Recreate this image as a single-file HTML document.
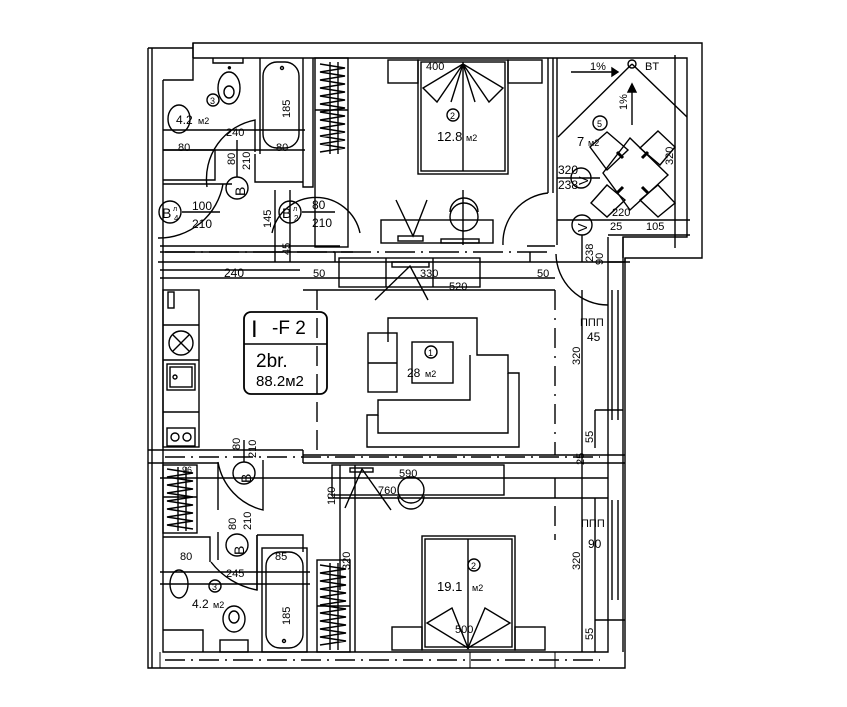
<!DOCTYPE html>
<html><head><meta charset="utf-8"><style>
html,body{margin:0;padding:0;background:#fff;width:847px;height:707px;overflow:hidden}
svg text{font-family:"Liberation Sans",sans-serif;fill:#000}
</style></head><body>
<svg width="847" height="707" viewBox="0 0 847 707" xmlns="http://www.w3.org/2000/svg">
<g fill="none" stroke="#000" stroke-width="1.4">
<path d="M148 48 H193 M148 48 V668 H625 V258 H702 V43 H193 V58"/>
<path d="M163 80 V652 H608 V262"/>
<path d="M152 48 V668"/>
<path d="M193 58 H557 M193 43 V58"/>
<path d="M557 58 H687 V237 H623 V258 M557 58 V245"/>
<path d="M608 262 V237 M623 237 V652 M612 290 V420 M618 290 V420 M612 500 V600 M618 500 V600"/>
<path d="M625 258 V262 H608"/>
<path d="M163 80 H193 V58 M193 58 V80"/>
<path d="M163 150 H215 V180 H163 M163 184 H232"/>
<path d="M255 154 V182 H303 M260 58 V154 M303 58 V187 H313 V58"/>
<rect x="263" y="62" width="36" height="86" rx="14"/>
<circle cx="282" cy="68" r="1.5"/>
<path d="M213 58 V63 H243 V58"/>
<ellipse cx="229" cy="88" rx="11" ry="16"/><ellipse cx="229" cy="92" rx="5" ry="6"/>
<ellipse cx="179" cy="119" rx="11" ry="14"/>
<path d="M207 187 A60 60 0 0 1 255 120 V152"/>
<path d="M158 238 A65 65 0 0 0 223 184"/>
<path d="M272 233 A45 45 0 0 1 360 233"/>
<rect x="315" y="58" width="33" height="189"/>
<path d="M315 110 H348"/>
<path d="M320 64 L345 68 L320 72 L345 76 L320 80 L345 84 L320 88 L345 92 L320 96 L345 100 L320 104 L345 108 L320 112 L345 116 L320 120 L345 124 L320 128 L345 132 L320 136 L345 140 L320 144 L345 148 L320 152"/>
<path d="M330 62 V154 M338 62 V154"/>
<path d="M548 58 V193 M553 58 V193"/>
<rect x="418" y="60" width="90" height="114"/><rect x="421" y="62" width="84" height="109"/>
<path d="M463 62 V171"/>
<rect x="388" y="60" width="30" height="23"/><rect x="508" y="60" width="34" height="23"/>
<path d="M463 64 L423 88 L437 102 Z M463 64 L503 88 L489 102 Z M463 64 L451 102 M463 64 L475 102"/>
<rect x="381" y="220" width="112" height="23"/>
<rect x="398" y="236" width="25" height="5"/><rect x="441" y="239" width="38" height="4"/>
<path d="M396 200 L413 236 L427 200"/>
<circle cx="464" cy="217" r="14"/><path d="M450 212 A14 14 0 0 1 478 212"/>
<path d="M463 190 V245"/>
<path d="M503 245 A50 50 0 0 1 548 193"/>
<path d="M160 246 H340 M160 252 H353 M335 252 V262 M530 252 V262 M527 246 H555"/>
<path d="M158 262 H630"/>
<path d="M165 252 H550" stroke-dasharray="30 6 2 6"/>
<rect x="339" y="258" width="141" height="29"/><path d="M386 258 V287 M433 258 V287"/>
<rect x="392" y="262" width="37" height="5"/>
<path d="M375 300 L410 266 L428 300"/>
<path d="M160 278 H555 M303 290 H555"/>
<path d="M608 305 A52 52 0 0 1 556 254"/>
<rect x="163" y="290" width="36" height="157"/>
<path d="M163 325 H199 M163 360 H199 M163 412 H199"/>
<rect x="168" y="292" width="6" height="16"/>
<circle cx="181" cy="343" r="12"/><path d="M173 335 L189 351 M189 335 L173 351"/>
<rect x="167" y="364" width="28" height="26"/><rect x="170" y="367" width="22" height="20"/>
<circle cx="175" cy="377" r="2"/>
<rect x="167" y="428" width="28" height="18"/><circle cx="175" cy="437" r="4"/><circle cx="187" cy="437" r="4"/>
<path d="M317 290 V450" stroke-dasharray="20 8"/>
<path d="M555 290 V455" stroke-dasharray="20 8 2 8"/>
<rect x="244" y="312" width="83" height="82" rx="7" stroke-width="1.8"/>
<path d="M244 344 H327"/>
<path d="M388 342 V318 H477 V355 H508 V373 H519 V447 H367 V415 H378 V400 H470 V355"/>
<path d="M378 415 V433 H508 V373"/>
<rect x="368" y="333" width="29" height="59"/><path d="M368 363 H397"/>
<rect x="412" y="342" width="41" height="41"/>
<path d="M148 450 H303 M148 463 H218 M303 450 V463 M218 463 V510 M303 463 H625 M303 455 H625"/>
<path d="M165 457 H600" stroke-dasharray="20 6 2 6"/>
<path d="M595 410 H623 M595 410 V448"/>
<path d="M218 462 A60 60 0 0 0 263 510 V460"/>
<rect x="163" y="465" width="34" height="68"/><path d="M163 497 H197"/>
<path d="M167 469 L193 473 L167 477 L193 481 L167 485 L193 489 L167 493 L193 497 L167 501 L193 505 L167 509 L193 513 L167 517 L193 521 L167 525 L193 529"/>
<path d="M178 467 V531 M186 467 V531"/>
<path d="M163 537 H210 V562 M163 630 H203 V652 M218 532 V560 M257 535 H303 V552 M257 535 V590"/>
<path d="M211 562 A75 75 0 0 0 257 590 V535"/>
<rect x="262" y="548" width="45" height="104"/>
<rect x="266" y="552" width="37" height="96" rx="14"/><circle cx="284" cy="641" r="1.5"/>
<ellipse cx="179" cy="584" rx="9" ry="14"/>
<ellipse cx="234" cy="619" rx="11" ry="13"/><ellipse cx="234" cy="617" rx="5" ry="6"/>
<rect x="220" y="640" width="28" height="12"/>
<rect x="317" y="560" width="33" height="92"/><path d="M317 606 H350"/>
<path d="M320 565 L346 569 L320 573 L346 577 L320 581 L346 585 L320 589 L346 593 L320 597 L346 601 L320 605 L346 609 L320 613 L346 617 L320 621 L346 625 L320 629 L346 633 L320 637 L346 641 L320 645"/>
<path d="M330 563 V650 M338 563 V650"/>
<rect x="332" y="465" width="172" height="30"/>
<rect x="350" y="468" width="23" height="4"/>
<path d="M345 508 L362 469 L391 510"/>
<circle cx="411" cy="490" r="13"/><path d="M398 496 A13 13 0 0 0 424 496"/>
<path d="M328 498 H608 M160 478 H608"/>
<path d="M355 465 V652 M340 465 V590"/>
<rect x="422" y="536" width="93" height="114"/><rect x="425" y="539" width="87" height="108"/>
<path d="M468 539 V647"/>
<rect x="392" y="627" width="30" height="23"/><rect x="515" y="627" width="30" height="23"/>
<path d="M468 648 L427 623 L452 608 Z M468 648 L510 623 L485 608 Z"/>
<path d="M160 652 V668 M470 652 V668 M555 652 V668" stroke-width="1"/>
<path d="M165 660 H600" stroke-dasharray="20 6 2 6"/>
<path d="M555 478 V540" stroke-dasharray="20 8"/>
<path d="M582 290 V652 M595 498 V652 M290 190 V262 M275 190 V262 M163 130 H305 M163 150 H305 M160 270 H300"/>
<path d="M595 620 H625 M160 572 H310 M160 584 H310"/>
<!-- balcony -->
<path d="M632 64 L558 137 M632 64 L687 117"/>
<circle cx="632" cy="64" r="4"/>
<path d="M571 72 H612 M632 92 V125"/>
<path d="M612 68 L612 76 L618 72 Z" fill="#000"/>
<path d="M628 92 L632 84 L636 92 Z" fill="#000"/>
<path d="M630 138 L668 175 L630 210 L603 173 Z"/>
<path d="M607 132 L628 150 L607 170 L590 147 Z"/>
<path d="M658 131 L675 147 L660 165 L640 148 Z"/>
<path d="M591 203 L607 217 L625 200 L607 185 Z"/>
<path d="M658 217 L675 203 L658 185 L640 200 Z"/>
<path d="M617 152 L623 158 M648 152 L642 158 M617 193 L623 187 M648 193 L642 187" stroke-width="3"/>
<path d="M557 220 H690 M608 235 H690 M675 55 V248 M557 178 H600"/>
<circle cx="600" cy="123" r="7"/>
<circle cx="581" cy="178" r="10"/>
<circle cx="582" cy="225" r="10"/>
<path d="M582 235 V262"/>
<circle cx="213" cy="100" r="6"/>
<circle cx="237" cy="188" r="11"/>
<circle cx="170" cy="212" r="11"/>
<circle cx="290" cy="212" r="11"/>
<circle cx="453" cy="115" r="6"/>
<circle cx="431" cy="352" r="6"/>
<circle cx="244" cy="473" r="11"/>
<circle cx="237" cy="545" r="11"/>
<circle cx="215" cy="586" r="6"/>
<circle cx="474" cy="565" r="6"/>
<path d="M182 212 H220 M302 212 H335 M237 177 V140 M244 462 V440"/>
</g>
<g font-size="11">
<text x="227" y="70" font-size="8">●</text>
<text x="210" y="104" font-size="9">3</text>
<text x="176" y="124" font-size="12">4.2</text><text x="198" y="124" font-size="9">м2</text>
<text x="226" y="136">240</text>
<text x="178" y="151">80</text>
<text x="276" y="151">80</text>
<text x="162" y="218" font-size="14">B</text><text x="173" y="211" font-size="7">л</text><text x="174" y="221" font-size="8">4</text>
<text x="192" y="210" font-size="12">100</text><text x="192" y="228" font-size="12">210</text>
<text x="282" y="218" font-size="14">B</text><text x="293" y="211" font-size="7">л</text><text x="294" y="221" font-size="8">2</text>
<text x="312" y="209" font-size="12">80</text><text x="312" y="227" font-size="12">210</text>
<text x="426" y="70">400</text>
<text x="450" y="119" font-size="9">2</text>
<text x="437" y="141" font-size="13">12.8</text><text x="466" y="141" font-size="9">м2</text>
<text x="558" y="174" font-size="12">320</text><text x="558" y="189" font-size="12">238</text>
<text x="590" y="70">1%</text><text x="645" y="70">BT</text>
<text x="597" y="127" font-size="9">5</text>
<text x="577" y="146" font-size="13">7</text><text x="588" y="146" font-size="9">м2</text>
<text x="612" y="216">220</text><text x="610" y="230">25</text><text x="646" y="230">105</text>
<text x="224" y="277" font-size="12">240</text>
<text x="313" y="277">50</text><text x="420" y="277">330</text><text x="449" y="290">520</text><text x="537" y="277">50</text>
<text x="251" y="337" font-size="24" font-family="Liberation Serif">I</text>
<text x="272" y="334" font-size="19">-F 2</text>
<text x="256" y="367" font-size="19">2br.</text>
<text x="256" y="386" font-size="15">88.2м2</text>
<text x="428" y="356" font-size="9">1</text>
<text x="407" y="377" font-size="12">28</text><text x="425" y="377" font-size="9">м2</text>
<text x="580" y="326">ППП</text><text x="587" y="341" font-size="12">45</text>
<text x="581" y="527">ППП</text><text x="588" y="548" font-size="12">90</text>
<text x="399" y="477">590</text><text x="378" y="494">760</text>
<text x="182" y="473" font-size="9">96</text>
<text x="180" y="560">80</text><text x="226" y="577">245</text><text x="275" y="560">85</text>
<text x="212" y="590" font-size="9">3</text>
<text x="192" y="608" font-size="12">4.2</text><text x="213" y="608" font-size="9">м2</text>
<text x="471" y="569" font-size="9">2</text>
<text x="437" y="591" font-size="13">19.1</text><text x="472" y="591" font-size="9">м2</text>
<text x="455" y="633">500</text>
</g>
<g font-size="11">
<text transform="translate(290,118) rotate(-90)">185</text>
<text transform="translate(290,625) rotate(-90)">185</text>
<text transform="translate(235,165) rotate(-90)">80</text>
<text transform="translate(250,170) rotate(-90)">210</text>
<text transform="translate(271,228) rotate(-90)">145</text>
<text transform="translate(290,255) rotate(-90)">45</text>
<text transform="translate(580,365) rotate(-90)">320</text>
<text transform="translate(580,570) rotate(-90)">320</text>
<text transform="translate(593,443) rotate(-90)">55</text>
<text transform="translate(593,640) rotate(-90)">55</text>
<text transform="translate(584,465) rotate(-90)">25</text>
<text transform="translate(335,505) rotate(-90)">120</text>
<text transform="translate(350,570) rotate(-90)">320</text>
<text transform="translate(240,450) rotate(-90)">80</text>
<text transform="translate(256,458) rotate(-90)">210</text>
<text transform="translate(236,530) rotate(-90)">80</text>
<text transform="translate(251,530) rotate(-90)">210</text>
<text transform="translate(603,265) rotate(-90)">90</text>
<text transform="translate(593,262) rotate(-90)">238</text>
<text transform="translate(673,165) rotate(-90)">320</text>
<text transform="translate(627,110) rotate(-90)">1%</text>
<text transform="translate(245,196) rotate(-90)" font-size="14">B</text>
<text transform="translate(251,483) rotate(-90)" font-size="14">B</text>
<text transform="translate(244,555) rotate(-90)" font-size="14">B</text>
<text transform="translate(588,185) rotate(-90)" font-size="13">V</text>
<text transform="translate(587,232) rotate(-90)" font-size="13">V</text>
</g>
</svg>
</body></html>
